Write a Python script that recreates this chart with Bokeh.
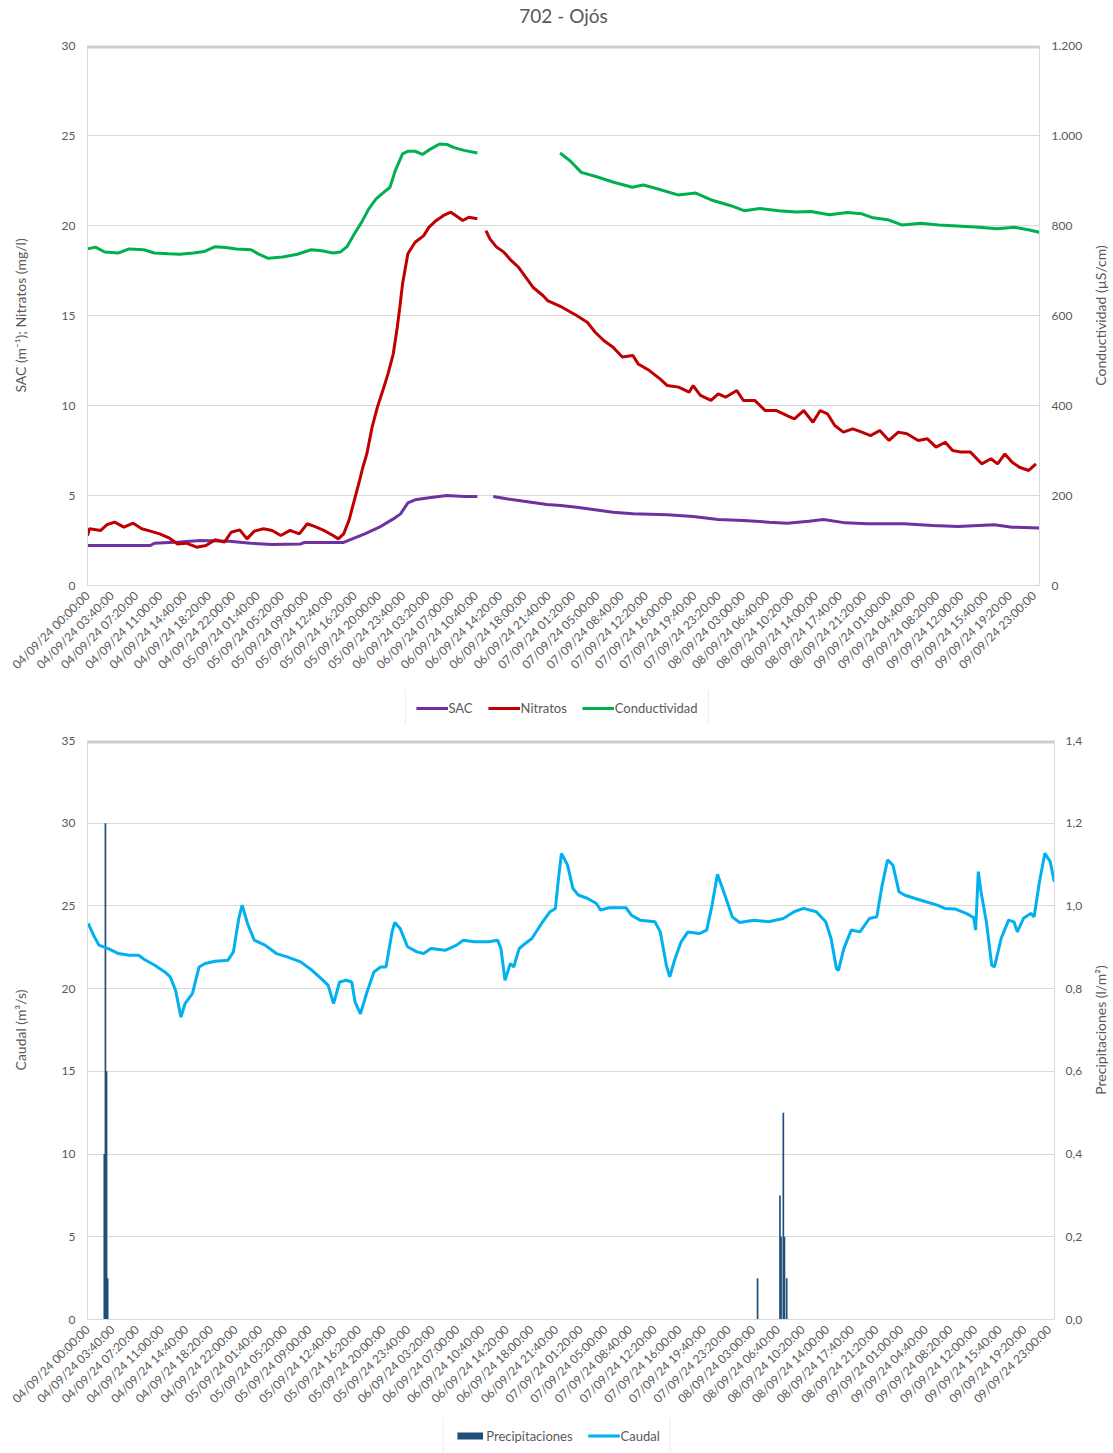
import math
from datetime import datetime
import numpy as np
from bokeh.plotting import figure
from bokeh.core.properties import value
from bokeh.models import (Range1d, LinearAxis, FixedTicker, CustomJSTickFormatter,
                          Span, Legend, LegendItem, ColumnDataSource, Title)
from bokeh.layouts import column, row
from bokeh.embed import file_html
from bokeh.resources import INLINE

# ---------------- data (hours elapsed since 04/09/24 00:00) ----------------
tick_labels = [
    "04/09/24 00:00:00", "04/09/24 03:40:00", "04/09/24 07:20:00", "04/09/24 11:00:00",
    "04/09/24 14:40:00", "04/09/24 18:20:00", "04/09/24 22:00:00",
    "05/09/24 01:40:00", "05/09/24 05:20:00", "05/09/24 09:00:00", "05/09/24 12:40:00",
    "05/09/24 16:20:00", "05/09/24 20:00:00", "05/09/24 23:40:00",
    "06/09/24 03:20:00", "06/09/24 07:00:00", "06/09/24 10:40:00", "06/09/24 14:20:00",
    "06/09/24 18:00:00", "06/09/24 21:40:00",
    "07/09/24 01:20:00", "07/09/24 05:00:00", "07/09/24 08:40:00", "07/09/24 12:20:00",
    "07/09/24 16:00:00", "07/09/24 19:40:00", "07/09/24 23:20:00",
    "08/09/24 03:00:00", "08/09/24 06:40:00", "08/09/24 10:20:00", "08/09/24 14:00:00",
    "08/09/24 17:40:00", "08/09/24 21:20:00",
    "09/09/24 01:00:00", "09/09/24 04:40:00", "09/09/24 08:20:00", "09/09/24 12:00:00",
    "09/09/24 15:40:00", "09/09/24 19:20:00", "09/09/24 23:00:00",
]

sac_h = [0, 9.5, 10.1, 13.9, 17.1, 21.4, 24.7, 27.9, 32.2, 32.8, 38.7, 40.0, 41.9, 44.1,
         46.2, 47.3, 48.4, 49.5, 51.6, 54.3, 57.0, 58.9, None,
         61.3, 63.5, 66.2, 69.4, 71.5, 73.9, 79.4, 82.4, 87.6, 91.5, 95.3, 99.1, 103.0,
         105.7, 109.0, 111.2, 114.5, 117.8, 123.3, 127.7, 131.5, 137.0, 139.7, 143.8]
sac_v = [2.22, 2.22, 2.35, 2.41, 2.50, 2.46, 2.35, 2.28, 2.31, 2.39, 2.39, 2.59, 2.87, 3.24,
         3.70, 3.98, 4.59, 4.76, 4.87, 5.00, 4.94, 4.94, None,
         4.94, 4.81, 4.67, 4.50, 4.44, 4.35, 4.07, 3.98, 3.93, 3.83, 3.67, 3.61, 3.52,
         3.46, 3.57, 3.67, 3.48, 3.43, 3.43, 3.33, 3.28, 3.37, 3.24, 3.20]

nit_h = [0, 0.3, 2.0, 3.0, 4.1, 5.5, 6.9, 8.2, 9.5, 10.9, 12.3, 13.6, 14.9, 16.5, 17.9,
         19.3, 20.7, 21.7, 23.0, 24.1, 25.2, 26.6, 27.9, 29.2, 30.6, 32.0, 33.2, 34.3,
         35.7, 37.1, 37.9, 38.7, 39.5, 40.3, 41.1, 41.6, 42.2, 43.0, 43.8, 44.7, 45.4,
         46.2, 46.8, 47.2, 47.6, 48.4, 49.5, 50.8, 51.6, 52.7, 53.8, 54.9, 56.0, 56.7,
         57.6, 58.9, None,
         60.2, 60.8, 61.8, 62.9, 64.0, 65.1, 66.2, 67.3, 68.8, 69.5, 71.7, 73.9, 75.5,
         76.7, 78.0, 79.4, 80.8, 82.4, 83.2, 84.9, 86.5, 87.6, 89.3, 90.9, 91.5, 92.6,
         94.2, 95.3, 96.4, 98.1, 99.1, 100.8, 102.4, 104.1, 105.7, 106.8, 108.2, 109.6,
         110.7, 111.8, 112.9, 114.2, 115.6, 117.0, 118.3, 119.7, 121.1, 122.5, 123.8,
         125.5, 126.9, 128.2, 129.6, 130.7, 132.0, 133.4, 135.1, 136.5, 137.5, 138.6,
         139.7, 140.8, 142.2, 143.3]
nit_v = [2.78, 3.15, 3.06, 3.39, 3.52, 3.24, 3.46, 3.15, 3.02, 2.87, 2.65, 2.31, 2.35,
         2.13, 2.22, 2.54, 2.41, 2.96, 3.09, 2.59, 3.02, 3.15, 3.06, 2.78, 3.06, 2.87,
         3.43, 3.28, 3.06, 2.78, 2.59, 2.87, 3.61, 4.72, 5.83, 6.57, 7.31, 8.80, 9.91,
         10.93, 11.76, 12.87, 14.35, 15.50, 16.76, 18.43, 19.07, 19.44, 19.91, 20.28,
         20.56, 20.74, 20.46, 20.28, 20.46, 20.37, None,
         19.72, 19.26, 18.80, 18.52, 18.06, 17.69, 17.13, 16.57, 16.11, 15.83, 15.46,
         15.00, 14.63, 14.07, 13.61, 13.24, 12.69, 12.78, 12.31, 11.94, 11.48, 11.11,
         11.02, 10.74, 11.11, 10.56, 10.28, 10.65, 10.46, 10.83, 10.28, 10.28, 9.72,
         9.72, 9.44, 9.26, 9.72, 9.07, 9.72, 9.54, 8.89, 8.52, 8.70, 8.52, 8.33, 8.61,
         8.06, 8.52, 8.43, 8.06, 8.15, 7.69, 7.96, 7.50, 7.41, 7.41, 6.76, 7.04, 6.76,
         7.31, 6.85, 6.57, 6.39, 6.76]

cond_h = [0, 1.2, 2.6, 4.7, 6.3, 8.5, 10.1, 12.3, 13.9, 16.0, 17.6, 19.3, 20.9, 22.5,
          24.7, 25.8, 27.3, 29.5, 31.7, 33.8, 35.4, 37.1, 38.2, 39.2, 40.3, 41.4, 42.5,
          43.6, 44.7, 45.7, 46.5, 47.6, 48.4, 49.5, 50.6, 51.6, 53.2, 54.3, 55.4, 56.9,
          58.9, None,
          71.4, 72.9, 74.6, 76.8, 79.5, 82.3, 84.0, 86.2, 89.2, 91.9, 94.4, 97.2, 99.2,
          101.6, 104.4, 107.1, 109.3, 112.1, 114.8, 117.0, 118.7, 120.9, 123.1, 125.9,
          128.6, 131.4, 134.7, 137.4, 140.1, 142.3, 143.8]
cond_v = [748, 752, 741, 739, 748, 746, 739, 737, 736, 739, 742, 753, 751, 748, 746, 737,
          727, 730, 736, 746, 744, 739, 741, 753, 781, 807, 837, 859, 873, 885, 922, 959,
          965, 965, 958, 968, 981, 980, 973, 967, 961, None,
          961, 944, 918, 909, 896, 885, 890, 881, 868, 872, 856, 844, 833, 838, 833, 830,
          831, 824, 829, 826, 817, 813, 801, 805, 801, 799, 796, 793, 796, 790, 785]

caudal_h = [0.1, 0.9, 1.7, 3.1, 4.6, 6.2, 7.6, 8.4, 10.0, 11.5, 12.3, 13.1, 13.9, 14.5,
            15.6, 16.6, 17.5, 19.0, 20.9, 21.7, 22.5, 23.0, 23.8, 24.8, 26.4, 28.1, 29.7,
            31.7, 33.4, 35.0, 35.8, 36.6, 37.5, 38.5, 39.3, 39.8, 40.6, 41.5, 42.6, 43.6,
            44.4, 45.3, 45.7, 46.5, 47.6, 49.0, 50.0, 51.1, 53.2, 54.9, 55.9, 57.5, 59.7,
            61.0, 61.5, 62.1, 62.9, 63.4, 64.2, 65.1, 66.1, 67.7, 68.8, 69.6, 70.0, 70.5,
            71.4, 72.2, 73.0, 74.4, 75.7, 76.3, 77.6, 80.1, 80.9, 82.2, 84.4, 85.2, 86.1,
            86.6, 87.4, 88.3, 89.3, 91.0, 92.1, 92.9, 93.7, 94.8, 95.9, 97.0, 99.1, 101.3,
            103.5, 105.1, 106.5, 108.4, 109.8, 110.6, 111.4, 111.7, 112.5, 113.6, 114.9,
            116.3, 117.4, 118.2, 119.0, 119.8, 120.7, 121.5, 123.1, 124.7, 126.4, 127.5,
            129.1, 130.7, 131.8, 132.1, 132.5, 132.9, 133.7, 134.5, 134.9, 135.9, 137.0,
            137.8, 138.3, 139.2, 140.3, 140.8, 141.6, 142.4, 143.2, 143.8]
caudal_v = [23.94, 23.23, 22.63, 22.42, 22.12, 22.02, 22.02, 21.78, 21.41, 21.01, 20.71,
            19.90, 18.28, 19.09, 19.70, 21.31, 21.52, 21.66, 21.72, 22.22, 24.24, 25.05,
            23.94, 22.93, 22.63, 22.12, 21.92, 21.62, 21.11, 20.51, 20.20, 19.09, 20.40,
            20.51, 20.40, 19.19, 18.48, 19.70, 21.01, 21.31, 21.31, 23.43, 24.00, 23.64,
            22.53, 22.22, 22.12, 22.42, 22.32, 22.63, 22.93, 22.83, 22.83, 22.93, 22.42,
            20.51, 21.52, 21.31, 22.42, 22.73, 23.03, 24.04, 24.65, 24.85, 26.46, 28.18,
            27.47, 26.06, 25.66, 25.45, 25.15, 24.75, 24.89, 24.89, 24.44, 24.14, 24.04,
            23.43, 21.41, 20.71, 21.82, 22.83, 23.43, 23.33, 23.54, 25.05, 26.91, 25.66,
            24.34, 24.00, 24.14, 24.04, 24.24, 24.65, 24.85, 24.65, 24.04, 23.03, 21.21,
            21.10, 22.42, 23.54, 23.43, 24.24, 24.34, 26.26, 27.78, 27.47, 25.86, 25.66,
            25.45, 25.25, 25.05, 24.85, 24.81, 24.55, 24.30, 23.54, 27.07, 25.86, 24.04,
            21.41, 21.31, 23.03, 24.14, 24.04, 23.43, 24.24, 24.55, 24.34, 26.46, 28.18,
            27.68, 26.46]

prec_h = [2.5, 2.6667, 2.8333, 3.0, 99.6667, 103.0, 103.1667, 103.5, 103.6667, 104.0]
prec_v = [0.4, 1.2, 0.6, 0.1, 0.1, 0.3, 0.2, 0.5, 0.2, 0.1]

# ---------------- styling ----------------
FONT = "Lato"
GREY = "#595959"
GRID = "#d9d9d9"
C_SAC, C_NIT, C_COND = "#7030A0", "#C00000", "#00B050"
C_CAUDAL, C_PREC = "#00B0F0", "#1F4E79"
START = datetime(2024, 9, 4, 0, 0)
tick_hours = [(datetime.strptime(s, "%d/%m/%y %H:%M:%S") - START).total_seconds() / 3600
              for s in tick_labels]
X_END = 143 + 50 / 60
STRIP_W = 28          # width of the strip that carries a right-hand axis title


def arr(lst):
    return np.array([np.nan if v is None else v for v in lst], dtype=float)


def no_align(fig):
    try:
        fig.frame_align = False
    except Exception:
        pass


def style_axis(ax, size="12px"):
    ax.major_label_text_font = FONT
    ax.major_label_text_font_size = size
    ax.major_label_text_color = GREY
    ax.axis_label_text_font = FONT
    ax.axis_label_text_font_size = "14px"
    ax.axis_label_text_color = GREY
    ax.axis_label_text_font_style = "normal"
    ax.axis_line_color = GRID
    ax.major_tick_line_color = None
    ax.minor_tick_line_color = None
    ax.major_tick_out = 0
    ax.major_tick_in = 0
    ax.minor_tick_out = 0
    ax.minor_tick_in = 0


def style_x(p):
    ax = p.xaxis[0]
    ax.ticker = FixedTicker(ticks=tick_hours)
    ax.formatter = CustomJSTickFormatter(
        args=dict(pos=tick_hours, labels=tick_labels),
        code="""
        let best = 0, bd = Infinity;
        for (let i = 0; i < pos.length; i++) {
            const d = Math.abs(pos[i] - tick);
            if (d < bd) { bd = d; best = i; }
        }
        return labels[best];
        """)
    ax.major_label_orientation = math.pi / 4
    ax.major_label_standoff = 8
    style_axis(ax, "12px")


def base_fig(w, h, mb_left, mb_right, mb_top, mb_bottom, ymax):
    p = figure(width=w, height=h, min_border_left=mb_left,
               min_border_right=mb_right, min_border_top=mb_top,
               min_border_bottom=mb_bottom, x_range=Range1d(0, X_END),
               y_range=Range1d(0, ymax), output_backend="svg",
               toolbar_location=None, background_fill_color="white",
               border_fill_color="white")
    no_align(p)
    p.outline_line_color = None
    p.xgrid.grid_line_color = None
    p.ygrid.grid_line_color = GRID
    p.ygrid.grid_line_width = 1
    p.add_layout(Span(location=ymax, dimension="width", line_color="#cdcdcd",
                      line_width=6))
    return p


def title_strip(h, text, center_from_top):
    """Narrow strip right of a chart holding its right axis title (bottom-to-top)."""
    s = figure(width=STRIP_W, height=h, output_backend="svg", toolbar_location=None,
               x_axis_type=None, y_axis_type=None, min_border=0,
               x_range=Range1d(0, STRIP_W), y_range=Range1d(0, h),
               background_fill_color="white", border_fill_color="white")
    no_align(s)
    s.outline_line_color = None
    s.text(x=[STRIP_W / 2 + 1], y=[h - center_from_top], text=[text], angle=math.pi / 2,
           text_align="center", text_baseline="middle", text_font=value(FONT),
           text_font_size="14px", text_color=GREY)
    return s


def legend_fig(h, items_spec, glyph_height):
    """A small strip holding only the legend (drawn inside its own frame).
    The swatch renderers hold one off-screen point so that the legend draws them."""
    lf = figure(width=1113, height=h, output_backend="svg", toolbar_location=None,
                x_axis_type=None, y_axis_type=None, min_border=0,
                x_range=Range1d(0, 1), y_range=Range1d(0, 1),
                background_fill_color="white", border_fill_color="white")
    no_align(lf)
    lf.outline_line_color = None
    items = []
    for label, kind, color in items_spec:
        if kind == "line":
            r = lf.line(x=[-5, -4], y=[-5, -4], line_color=color, line_width=3)
        else:
            r = lf.vbar(x=[-5], top=[-5], width=0.1, fill_color=color, line_color=None)
        items.append(LegendItem(label=label, renderers=[r]))
    lg = Legend(items=items, orientation="horizontal", location="center")
    lg.label_text_font = FONT
    lg.label_text_font_size = "13px"
    lg.label_text_color = GREY
    lg.glyph_width = 32
    lg.glyph_height = glyph_height
    lg.label_standoff = 1
    lg.spacing = 15
    lg.padding = 10
    lg.margin = 0
    lg.border_line_color = GRID
    lg.background_fill_color = "white"
    lf.add_layout(lg, "center")
    return lf


# ---------------- top chart ----------------
W1 = 1113 - STRIP_W
p1 = base_fig(W1, 690, 87, W1 - 1040, 45, 105, 30)
# spacer (closest to the frame) then the title above it
p1.add_layout(Title(text=" ", text_font_size="14px", standoff=0), "above")
p1.add_layout(Title(text="702 - Ojós", align="center", text_font=FONT,
                    text_font_size="19px", text_font_style="normal",
                    text_color=GREY, standoff=2), "above")
p1.title.offset = STRIP_W / 2

p1.extra_y_ranges = {"cond": Range1d(0, 1200)}
ly = p1.yaxis[0]
ly.ticker = FixedTicker(ticks=[0, 5, 10, 15, 20, 25, 30])
ly.axis_label = "SAC (m⁻¹); Nitratos (mg/l)"
ly.major_label_standoff = 12
ly.axis_label_standoff = 30
style_axis(ly)

ry = LinearAxis(y_range_name="cond")
ry.ticker = FixedTicker(ticks=[0, 200, 400, 600, 800, 1000, 1200])
ry.formatter = CustomJSTickFormatter(code="""
    const s = Math.round(tick).toString();
    return s.length > 3 ? s.slice(0, -3) + '.' + s.slice(-3) : s;
""")
ry.major_label_standoff = 12
style_axis(ry)
p1.add_layout(ry, "right")
style_x(p1)

src_sac = ColumnDataSource(dict(x=arr(sac_h), y=arr(sac_v)))
src_nit = ColumnDataSource(dict(x=arr(nit_h), y=arr(nit_v)))
src_cond = ColumnDataSource(dict(x=arr(cond_h), y=arr(cond_v)))
p1.line("x", "y", source=src_sac, line_color=C_SAC, line_width=3)
p1.line("x", "y", source=src_nit, line_color=C_NIT, line_width=3)
p1.line("x", "y", source=src_cond, y_range_name="cond", line_color=C_COND, line_width=3)

s1 = title_strip(690, "Conductividad (µS/cm)", 45 + 540 / 2)

leg1 = legend_fig(35, [("SAC", "line", C_SAC), ("Nitratos", "line", C_NIT),
                       ("Conductividad", "line", C_COND)], 12)

# ---------------- bottom chart ----------------
W2 = 1113 - STRIP_W
p2 = base_fig(W2, 693, 87, W2 - 1055, 15, 99, 35)
p2.extra_y_ranges = {"prec": Range1d(0, 1.4)}
ly2 = p2.yaxis[0]
ly2.ticker = FixedTicker(ticks=[0, 5, 10, 15, 20, 25, 30, 35])
ly2.axis_label = "Caudal (m³/s)"
ly2.major_label_standoff = 12
ly2.axis_label_standoff = 30
style_axis(ly2)

ry2 = LinearAxis(y_range_name="prec")
ry2.ticker = FixedTicker(ticks=[0, 0.2, 0.4, 0.6, 0.8, 1.0, 1.2, 1.4])
ry2.formatter = CustomJSTickFormatter(code="return tick.toFixed(1).replace('.', ',');")
ry2.major_label_standoff = 11
style_axis(ry2)
p2.add_layout(ry2, "right")
style_x(p2)

src_prec = ColumnDataSource(dict(x=prec_h, top=prec_v))
src_caudal = ColumnDataSource(dict(x=arr(caudal_h), y=arr(caudal_v)))
p2.vbar(x="x", top="top", width=0.25, source=src_prec, y_range_name="prec",
        fill_color=C_PREC, line_color=None)
p2.line("x", "y", source=src_caudal, line_color=C_CAUDAL, line_width=3)

s2 = title_strip(693, "Precipitaciones (l/m²)", 15 + 579 / 2)

leg2 = legend_fig(35, [("Precipitaciones", "bar", C_PREC),
                       ("Caudal", "line", C_CAUDAL)], 9)

layout = column(row(p1, s1, spacing=0), leg1, row(p2, s2, spacing=0), leg2, spacing=0)
open("out.html", "w").write(file_html(layout, INLINE))
